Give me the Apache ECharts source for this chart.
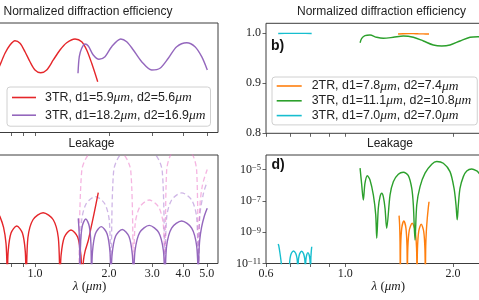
<!DOCTYPE html>
<html><head><meta charset="utf-8">
<script src="https://cdn.jsdelivr.net/npm/echarts@6/dist/echarts.min.js"></script>
<style>html,body{margin:0;padding:0;background:#fff}#c{width:479px;height:300px}</style>
</head><body><div id="c"></div>
<script>
// ---- tick / label values ----
const lamTicksLeft = [0.7, 0.8, 0.9, 1, 2, 3, 4, 5];
const lamLabelsLeft = [1, 2, 3, 4, 5];
const lamTicksRight = [0.6, 0.7, 0.8, 0.9, 1, 2];
const lamLabelsRight = [0.6, 1, 2];
const effTicks = [0.8, 0.9, 1.0];
const leakTicks = [1e-11, 1e-9, 1e-7, 1e-5];

// ---- series names ----
const nRed = '3TR, d1=5.9μm, d2=5.6μm';
const nPur = '3TR, d1=18.2μm, d2=16.9μm';
const nOra = '2TR, d1=7.8μm, d2=7.4μm';
const nGre = '3TR, d1=11.1μm, d2=10.8μm';
const nCya = '3TR, d1=7.0μm, d2=7.0μm';

// ---- efficiency [lambda(um), normalized efficiency] ----
const effRed = [[0.70,0.921],[0.7205,0.9356],[0.7551,0.9591],[0.7912,0.9758],[0.8291,0.9844],[0.869,0.9792],[0.9106,0.9623],[0.9543,0.9422],[1.0,0.9256],[1.0548,0.9201],[1.1159,0.9256],[1.187,0.9457],[1.2638,0.9658],[1.3459,0.9804],[1.4549,0.9879],[1.5488,0.9824],[1.623,0.9658],[1.701,0.939],[1.7994,0.9021]];
const effPur = [[1.4962,0.9189],[1.5143,0.9523],[1.5488,0.9692],[1.5973,0.9778],[1.6475,0.9738],[1.7265,0.9557],[1.8214,0.9471],[1.9268,0.9523],[2.0512,0.9724],[2.2319,0.9879],[2.3609,0.9824],[2.5119,0.9658],[2.7176,0.9422],[2.9846,0.9256],[3.2251,0.9291],[3.4858,0.9491],[3.7715,0.9724],[4.1429,0.9804],[4.4771,0.9724],[4.7665,0.9523],[5.0234,0.9256]];
const effCya = [[0.649,0.9997],[0.70,0.9998],[0.75,0.9998],[0.805,0.9997]];
const effOra = [[1.404,0.9985],[1.45,0.9992],[1.5,0.9994],[1.55,0.9993],[1.6,0.999],[1.65,0.9988],[1.714,0.9985]];
const effGre = [[1.0994,0.9812],[1.1112,0.99],[1.1348,0.9952],[1.172,0.9966],[1.2239,0.992],[1.2769,0.99],[1.3619,0.992],[1.4526,0.9946],[1.5493,0.992],[1.6524,0.9846],[1.7623,0.9766],[1.8603,0.9746],[1.9618,0.9766],[2.0927,0.9846],[2.232,0.992],[2.3476,0.9932],[2.45,0.9915]];

// ---- leakage [lambda(um), log10(leakage)] ----
const leakRed = [[0.70,-7.7],[0.72,-8.01],[0.745,-8.7],[0.762,-9.7],[0.768,-10.8],[0.771,-12],
 [0.7779,-10.21],[0.7989,-9.06],[0.8427,-8.61],[0.8888,-9.06],[0.9128,-10.21],[0.921,-12],
 [0.9357,-9.36],[0.9812,-8.21],[1.079,-7.76],[1.1865,-8.21],[1.2442,-9.36],[1.264,-12],
 [1.2771,-10.46],[1.3172,-9.31],[1.4011,-8.86],[1.4906,-9.31],[1.5371,-10.46],[1.553,-12],
 [1.575,-10.8],[1.60,-10.2],[1.643,-9.6],[1.689,-8.75],[1.737,-7.85],[1.809,-6.48]];
const leakPur = [[1.50,-8.12],[1.512,-9.0],[1.52,-10.3],[1.524,-12],
 [1.5322,-9.76],[1.5573,-8.61],[1.6086,-8.16],[1.6617,-8.61],[1.6888,-9.76],[1.698,-12],
 [1.7135,-10.25],[1.761,-9.10],[1.8598,-8.65],[1.9641,-9.10],[2.0184,-10.25],[2.037,-12],
 [2.0586,-10.43],[2.1249,-9.28],[2.2638,-8.83],[2.4121,-9.28],[2.4895,-10.43],[2.516,-12],
 [2.5533,-10.17],[2.6687,-9.02],[2.9153,-8.57],[3.1847,-9.02],[3.3286,-10.17],[3.378,-12],
 [3.4313,-9.89],[3.5963,-8.74],[3.9507,-8.29],[4.3397,-8.74],[4.548,-9.89],[4.62,-12],
 [4.64,-10.5],[4.68,-9.5],[4.76,-8.7],[4.88,-8.0],[5.02,-7.48]];
const leakPink = [[1.51,-12],[1.549,-5.1],[1.6723,-3.95],[1.9491,-3.5],[2.2719,-3.95],[2.4528,-5.1],[2.516,-12],
 [2.5533,-8.55],[2.6687,-7.4],[2.9153,-6.95],[3.1847,-7.4],[3.3286,-8.55],[3.378,-12],
 [3.4313,-5.1],[3.5963,-3.95],[3.9507,-3.5],[4.3397,-3.95],[4.548,-5.1],[4.62,-12],
 [4.68,-7.5],[4.8,-6.0],[5.02,-5.0]];
const leakLav = [[1.524,-12],[1.5463,-8.34],[1.615,-7.19],[1.762,-6.74],[1.9222,-7.19],[2.0077,-8.34],[2.037,-12],
 [2.0892,-5.1],[2.2539,-3.95],[2.6232,-3.5],[3.053,-3.95],[3.2935,-5.1],[3.378,-12],
 [3.4313,-8.1],[3.5963,-6.95],[3.9507,-6.5],[4.3397,-6.95],[4.548,-8.1],[4.62,-12],
 [4.68,-8.0],[4.85,-6.5],[5.02,-5.78]];
const leakCya = [[0.649,-9.75],[0.651,-9.85],[0.656,-10.3],[0.662,-11.0],[0.666,-12],[0.6967,-12],
 [0.6979,-11.1],[0.7006,-10.65],[0.7064,-10.35],[0.7162,-10.2],[0.7262,-10.35],[0.7322,-10.65],[0.7351,-11.1],[0.7363,-12],
 [0.7374,-11.12],[0.7399,-10.67],[0.7454,-10.37],[0.7545,-10.22],[0.7638,-10.37],[0.7694,-10.67],[0.7721,-11.12],[0.7732,-12],
 [0.774,-11.21],[0.7757,-10.76],[0.7795,-10.46],[0.7858,-10.31],[0.7922,-10.46],[0.796,-10.76],[0.7979,-11.21],[0.7986,-12],
 [0.8005,-10.8],[0.8025,-10.3],[0.8053,-9.93]];
const leakOra = [[1.4132,-7.95],[1.418,-8.5],[1.422,-9.6],[1.4249,-12],
 [1.4281,-9.89],[1.4378,-8.74],[1.4573,-8.29],[1.4771,-8.74],[1.4871,-9.89],[1.4904,-12],
 [1.4951,-10.03],[1.5092,-8.88],[1.5378,-8.43],[1.5669,-8.88],[1.5817,-10.03],[1.5866,-12],
 [1.5909,-10.1],[1.6037,-8.95],[1.6297,-8.5],[1.6561,-8.95],[1.6694,-10.1],[1.6739,-12],
 [1.678,-9.9],[1.685,-8.9],[1.695,-8.1],[1.705,-7.5],[1.714,-7.06]];
const leakGre = [[1.0994,-4.92],[1.1112,-5.99],[1.1226,-6.95],[1.1348,-5.88],[1.1519,-5.40],[1.172,-5.67],[1.1974,-6.63],[1.216,-7.90],[1.2239,-9.39],
 [1.2364,-7.48],[1.2503,-6.74],[1.264,-6.52],[1.2769,-6.74],[1.291,-7.48],[1.305,-8.75],
 [1.3336,-6.63],[1.3619,-5.78],[1.4065,-5.31],[1.4526,-5.18],[1.5002,-5.40],[1.5333,-6.20],[1.5493,-7.27],[1.566,-9.5],
 [1.5836,-7.27],[1.6175,-6.10],[1.6705,-5.24],[1.7443,-4.67],[1.8014,-4.50],[1.8791,-4.61],[1.9618,-5.14],[2.0131,-6.20],[2.0392,-7.27],[2.055,-8.22],
 [2.070,-7.27],[2.0927,-6.20],[2.1376,-5.46],[2.1849,-5.10],[2.2565,-4.97],[2.3304,-5.10],[2.365,-5.24],[2.45,-5.6]];

const C = {red:'#e5262a', pur:'#9467bd', ora:'#ff7f0e', gre:'#2ca02c', cya:'#17becf',
  pink:'rgba(236,120,200,0.55)', lav:'rgba(160,110,205,0.5)'};
const SERIF = '"Liberation Serif", "DejaVu Serif", serif';
const SANS = '"Liberation Sans", Arial, sans-serif';
const toLeak = a => a.map(p => [p[0], Math.pow(10, p[1])]);

function ln(name, data, color, gi, extra) {
  return Object.assign({type:'line', name, data, xAxisIndex:gi, yAxisIndex:gi, symbol:'none', showSymbol:false,
    smooth:0.3, clip:true, lineStyle:{color, width:1.4}, itemStyle:{color}, z:3}, extra||{});
}

const frame = {show:true, borderColor:'#3c3c3c', borderWidth:1, backgroundColor:'transparent', containLabel:false, outerBoundsMode:'none'};
const tickStyle = {color:'#3c3c3c', width:0.8};

function xAx(gi, right, bottom) {
  const left = !right;
  return {type:'log', gridIndex:gi, logBase:10,
    min: left ? 0.5 : 0.5999, max: left ? 5.553 : 2.9,
    axisLine:{show:false}, splitLine:{show:false}, minorTick:{show:false},
    axisTick:{show:true, customValues: left ? lamTicksLeft : lamTicksRight, length:3.5, lineStyle:tickStyle},
    axisLabel:{show:bottom, customValues: left ? lamLabelsLeft : lamLabelsRight, margin:4,
      formatter: v => Number(v).toFixed(1), fontFamily:SERIF, fontSize:12, color:'#222'},
    name: bottom ? '{i|λ} ({i|μm})' : '', nameLocation:'middle', nameGap:17,
    nameTextStyle:{fontFamily:SERIF, fontSize:13, color:'#222', rich:{i:{fontFamily:SERIF, fontStyle:'italic', fontSize:13, color:'#222'}}}
  };
}

const legendCommon = {show:true, orient:'vertical', icon:'rect', itemHeight:1.6,
  backgroundColor:'rgba(255,255,255,0.85)', borderColor:'#d0d0d0', borderWidth:1, borderRadius:3,
  formatter: n => n.replace(/μm/g, '{i|μm}')};
const legendText = pad => ({fontFamily:SANS, fontSize:12.4, color:'#222', lineHeight:14, padding:[0,0,0,pad],
  rich:{i:{fontFamily:SERIF, fontStyle:'italic', fontSize:13.5, color:'#222'}}});

const option = {
  animation:false,
  backgroundColor:'#fff',
  grid:[
    Object.assign({left:-39, top:23, width:257, height:109.5}, frame),
    Object.assign({left:266, top:23.3, width:244.7, height:110}, frame),
    Object.assign({left:-39, top:155, width:257, height:108.5}, frame),
    Object.assign({left:266, top:155, width:244.7, height:108.5}, frame)
  ],
  xAxis:[xAx(0,false,false), xAx(1,true,false), xAx(2,false,true), xAx(3,true,true)],
  yAxis:[
    {type:'value', gridIndex:0, min:0.8, max:1.02, show:false},
    {type:'value', gridIndex:1, min:0.8, max:1.02, axisLine:{show:false}, splitLine:{show:false},
      axisTick:{show:true, customValues:effTicks, length:3.5, lineStyle:tickStyle},
      axisLabel:{customValues:effTicks, margin:5, formatter:v=>Number(v).toFixed(1), fontFamily:SERIF, fontSize:12, color:'#222'}},
    {type:'log', gridIndex:2, min:9.99e-12, max:8.3e-5, show:false},
    {type:'log', gridIndex:3, min:9.99e-12, max:8.3e-5, axisLine:{show:false}, splitLine:{show:false}, minorTick:{show:false},
      axisTick:{show:true, customValues:leakTicks, length:3.5, lineStyle:tickStyle},
      axisLabel:{customValues:leakTicks, margin:5, color:'#222',
        formatter: v => '{b|10}{s|−' + Math.round(-Math.log10(v)) + '}',
        rich:{b:{fontFamily:SERIF, fontSize:12, color:'#222'}, s:{fontFamily:SERIF, fontSize:8.5, color:'#222', verticalAlign:'top', lineHeight:9}}}}
  ],
  legend:[
    Object.assign({}, legendCommon, {left:7, top:87, data:[nRed, nPur], itemWidth:24, itemGap:3.7,
      padding:[3.5,5,4,5], textStyle:legendText(4)}),
    Object.assign({}, legendCommon, {left:272, top:77, data:[nOra, nGre, nCya], itemWidth:25, itemGap:0.8,
      padding:[2,6,2.3,4.7], textStyle:legendText(5)})
  ],
  graphic:[
    {type:'text', x:88, y:11.5, style:{text:'Normalized diffraction efficiency', fontFamily:SANS, fontSize:12, fill:'#222', align:'center', verticalAlign:'middle'}},
    {type:'text', x:381.5, y:11.5, style:{text:'Normalized diffraction efficiency', fontFamily:SANS, fontSize:12, fill:'#222', align:'center', verticalAlign:'middle'}},
    {type:'text', x:91.5, y:144, style:{text:'Leakage', fontFamily:SANS, fontSize:12, fill:'#222', align:'center', verticalAlign:'middle'}},
    {type:'text', x:390, y:144, style:{text:'Leakage', fontFamily:SANS, fontSize:12, fill:'#222', align:'center', verticalAlign:'middle'}},
    {type:'text', x:271, y:46.5, z:10, style:{text:'b)', fontFamily:SANS, fontWeight:'bold', fontSize:14, fill:'#111', align:'left', verticalAlign:'middle'}},
    {type:'text', x:271.5, y:165, z:10, style:{text:'d)', fontFamily:SANS, fontWeight:'bold', fontSize:14, fill:'#111', align:'left', verticalAlign:'middle'}}
  ],
  series:[
    ln(nRed, effRed, C.red, 0),
    ln(nPur, effPur, C.pur, 0),
    ln(nOra, effOra, C.ora, 1),
    ln(nGre, effGre, C.gre, 1),
    ln(nCya, effCya, C.cya, 1),
    ln('pink dashed', toLeak(leakPink), C.pink, 2, {lineStyle:{color:C.pink, width:1.3, type:[5,3]}, z:2}),
    ln('lavender dashed', toLeak(leakLav), C.lav, 2, {lineStyle:{color:C.lav, width:1.3, type:[5,3]}, z:2}),
    ln(nRed, toLeak(leakRed), C.red, 2),
    ln(nPur, toLeak(leakPur), C.pur, 2),
    ln(nOra, toLeak(leakOra), C.ora, 3),
    ln(nGre, toLeak(leakGre), C.gre, 3),
    ln(nCya, toLeak(leakCya), C.cya, 3)
  ]
};
const chart = echarts.init(document.getElementById('c'), null, {renderer:'canvas'});
chart.setOption(option);
</script></body></html>
